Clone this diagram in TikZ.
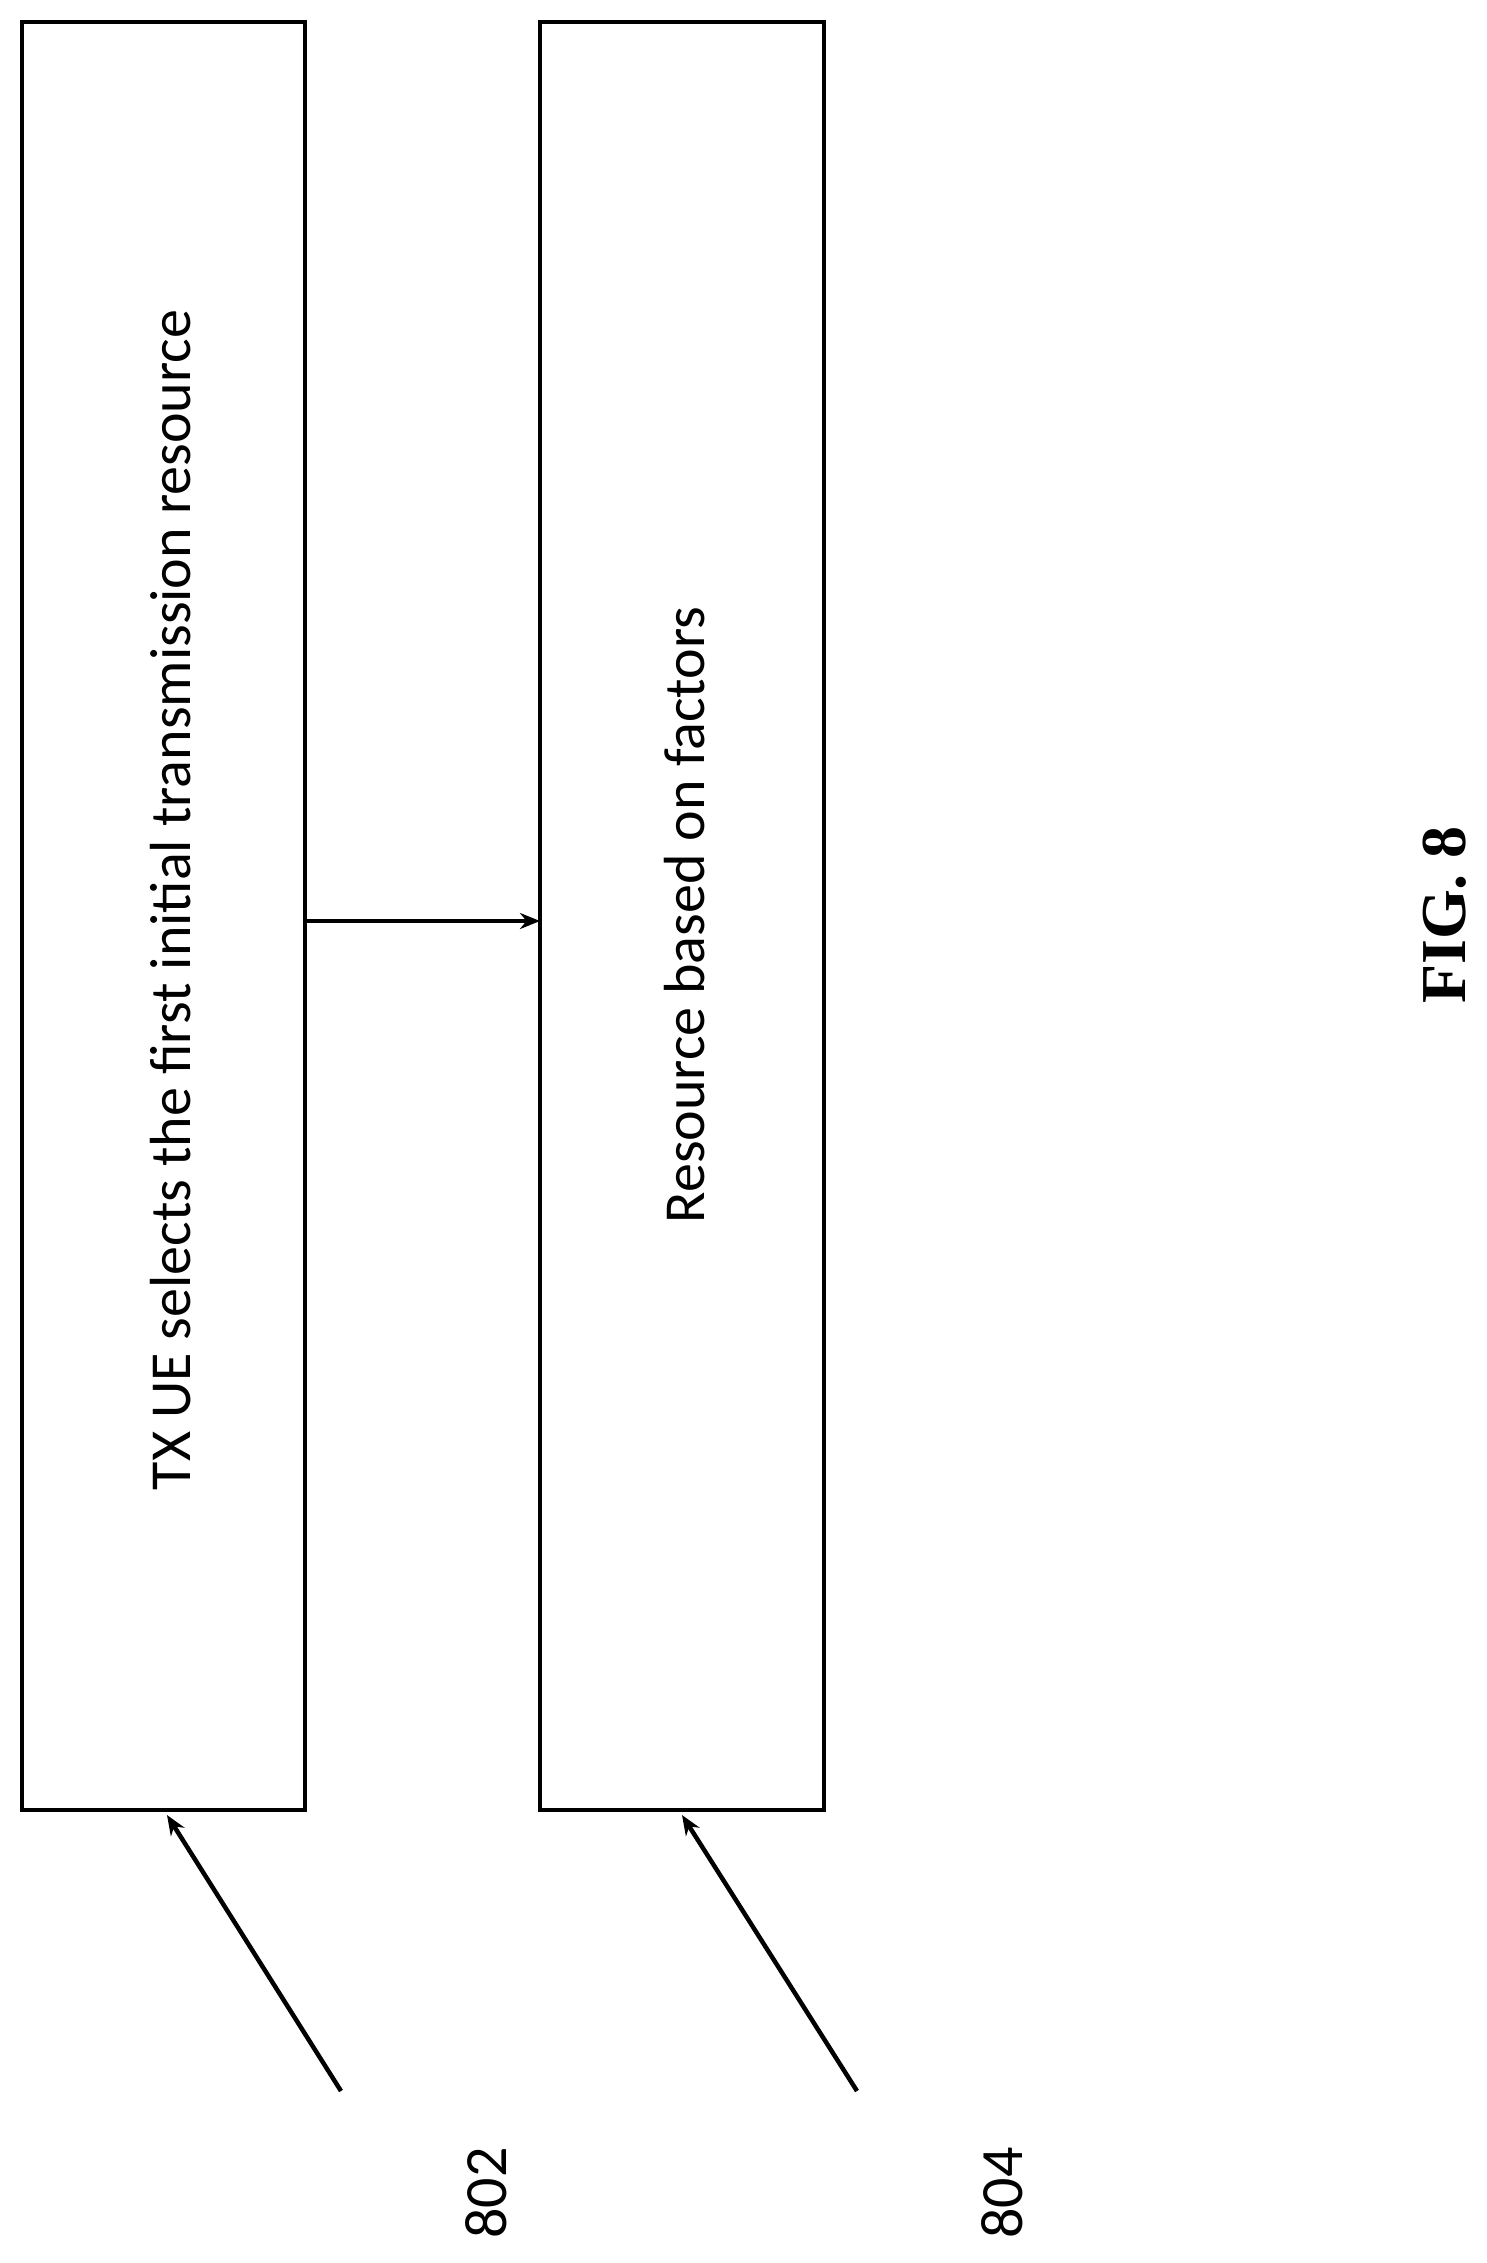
\documentclass[tikz,border=0pt]{standalone}
\usetikzlibrary{arrows.meta}
\usepackage{fontspec}
\setmainfont{Carlito}
\newfontfamily\figfont{Liberation Serif}
\begin{document}
\begin{tikzpicture}[x=1pt,y=-1pt,
 box/.style={draw,line width=4.5pt},
 lbl/.style={font=\fontsize{58}{64}\selectfont,rotate=90},
 num/.style={font=\fontsize{60}{66}\selectfont,rotate=90},
 arr/.style={line width=4.5pt,-{Stealth[length=20pt,width=16pt]}}]
\useasboundingbox (0,0) rectangle (1487,2263);
\draw[box] (22,22) rectangle (305,1810);
\draw[box] (540,22) rectangle (824,1810);
\coordinate (b1) at (305,921);
\coordinate (b2) at (540,921);
\draw[arr] (b1) -- (b2);
\node[lbl] (t1) at (171,900) {TX UE selects the first initial transmission resource};
\node[lbl] (t2) at (685,915) {Resource based on factors};
\coordinate (s1) at (341,2091); \coordinate (e1) at (167,1815);
\coordinate (s2) at (857,2091); \coordinate (e2) at (682,1815);
\draw[arr] (s1) -- (e1);
\draw[arr] (s2) -- (e2);
\node[num] (n1) at (486,2193) {802};
\node[num] (n2) at (1002,2193) {804};
\node[rotate=90,font=\figfont\bfseries\fontsize{64}{70}\selectfont] (fig) at (1445,915) {FIG. 8};
\end{tikzpicture}
\end{document}
